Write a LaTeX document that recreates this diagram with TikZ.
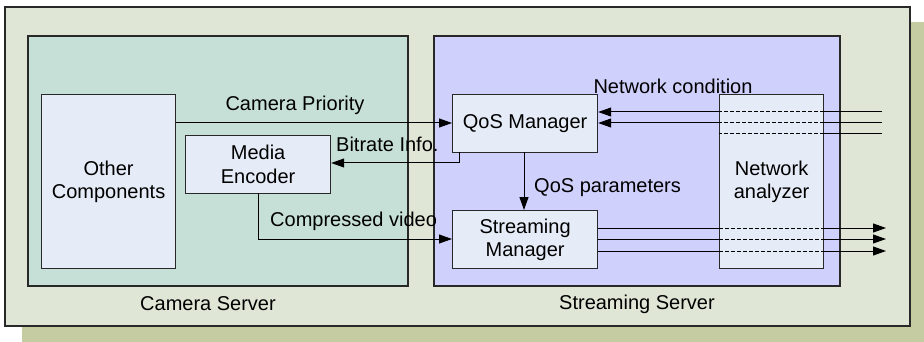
\documentclass[tikz,border=0pt]{standalone}
\usepackage{fontspec}
\setmainfont{Liberation Sans}
\usetikzlibrary{arrows.meta}
\definecolor{outerc}{RGB}{224,230,214}
\definecolor{shadowc}{RGB}{198,204,162}
\definecolor{camc}{RGB}{198,224,216}
\definecolor{strc}{RGB}{208,208,252}
\definecolor{boxc}{RGB}{230,236,247}
\definecolor{linec}{RGB}{40,40,40}
\tikzset{
  compbox/.style={draw=linec, line width=1.2pt, fill=boxc, inner sep=0pt, align=center, anchor=north west},
  lbl/.style={inner sep=0pt, font=\fontsize{20}{23.5}\selectfont},
  conn/.style={line width=1pt, -{Triangle[length=13pt,width=9pt]}},
  plainline/.style={line width=1pt},
  dashline/.style={line width=1pt, dash pattern=on 4pt off 2pt},
}
\begin{document}
\begin{tikzpicture}[x=1pt,y=-1pt, font=\fontsize{20}{23.5}\selectfont]
\useasboundingbox (0,0) rectangle (924,342);
% shadow and outer
\fill[shadowc] (22,22) rectangle (924,342);
\draw[line width=1.5pt, draw=linec, fill=outerc] (5,7) rectangle (910,326);
% servers
\draw[line width=1.2pt, draw=linec, fill=camc] (28,36) rectangle (408,286);
\draw[line width=1.2pt, draw=linec, fill=strc] (434,36) rectangle (840,286);
\node[lbl] (camlbl) at (208,304) {Camera Server};
\node[lbl] (strlbl) at (637,304) {Streaming Server};
% components
\node[compbox, minimum width=134pt, minimum height=174pt] (other) at (41,94) {Other\\Components};
\node[compbox, minimum width=145pt, minimum height=58pt] (enc) at (185,135) {Media\\Encoder};
\node[compbox, minimum width=145pt, minimum height=58pt] (qos) at (452,94) {QoS Manager};
\node[compbox, minimum width=145pt, minimum height=58pt] (sm) at (452,210) {Streaming\\Manager};
\node[compbox, minimum width=104pt, minimum height=174pt] (na) at (719,94) {Network\\analyzer};
% Camera priority
\draw[conn] (other.east |- 0,123) -- (qos.west |- 0,123);
\node[lbl] (cp) at (295,105) {Camera Priority};
% Bitrate info
\draw[conn] (459,152) |- (enc.east |- 0,163);
\node[lbl, anchor=west] (bi) at (336,144) {Bitrate Info.};
% Compressed video
\draw[conn] (258,193) |- (sm.west |- 0,239);
\node[lbl, anchor=west] (cv) at (270,221) {Compressed video};
% QoS parameters
\draw[conn] (524,152) -- (524,210);
\node[lbl, anchor=west] (qp) at (534,188) {QoS parameters};
% Network condition
\node[lbl] (nc) at (673,86) {Network condition};
\coordinate (in3) at (882,134);
\foreach \y in {112,123} {
  \draw[plainline] (882,\y) -- (na.east |- 0,\y);
  \draw[dashline] (na.east |- 0,\y) -- (na.west |- 0,\y);
  \draw[conn] (na.west |- 0,\y) -- (qos.east |- 0,\y);
}
\draw[plainline] (in3) -- (na.east |- in3);
\draw[dashline] (na.east |- in3) -- (na.west |- in3);
% outgoing
\foreach \y in {228,239,251} {
  \draw[plainline] (sm.east |- 0,\y) -- (na.west |- 0,\y);
  \draw[dashline] (na.west |- 0,\y) -- (na.east |- 0,\y);
  \draw[conn] (na.east |- 0,\y) -- (886,\y);
}
\end{tikzpicture}
\end{document}
